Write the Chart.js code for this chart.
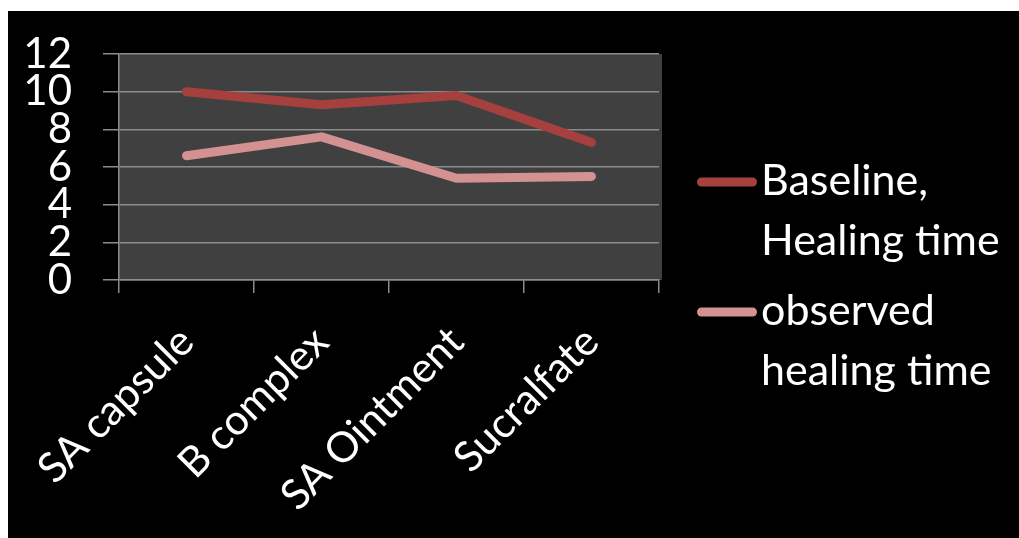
<!DOCTYPE html>
<html>
<head>
<meta charset="utf-8">
<script src="https://cdn.jsdelivr.net/npm/chart.js@4.4.1/dist/chart.umd.min.js"></script>
<style>
  html, body { margin: 0; padding: 0; background: #ffffff; }
  #frame { position: absolute; left: 8px; top: 11px; width: 1011px; height: 527px; background: #000000; }
  canvas { display: block; }
</style>
</head>
<body>
<div id="frame"><canvas id="chart" width="1011" height="527"></canvas></div>
<script>
// Treatments compared
const categories = ['SA capsule', 'B complex', 'SA Ointment', 'Sucralfate'];
// Healing time per treatment
const baselineHealing = [10, 9.3, 9.8, 7.3];
const observedHealing = [6.6, 7.6, 5.4, 5.5];
// Legend text, one entry per series, split over two lines
const baselineName = ['Baseline,', 'Healing time'];
const observedName = ['observed', 'healing time'];
// Value axis
const yMin = 0, yMax = 12, yStep = 2;

const FONT = 'Lato, "Liberation Sans", sans-serif';
const GRID = '#8c8c8c';

// Dark panel behind the plot area
const plotBackground = {
  id: 'plotBackground',
  beforeDraw(chart) {
    const { ctx, chartArea: a } = chart;
    ctx.save();
    ctx.fillStyle = '#404040';
    ctx.fillRect(a.left, a.top, a.right - a.left + 3, a.bottom - a.top);
    ctx.restore();
  }
};

// Legend on the right with wrapped series names
const sideLegend = {
  id: 'sideLegend',
  afterDraw(chart) {
    const { ctx } = chart;
    const items = chart.data.datasets.map(ds => ({ lines: ds.legendLines, color: ds.borderColor }));
    ctx.save();
    ctx.font = '43px ' + FONT;
    ctx.fillStyle = '#ffffff';
    ctx.textBaseline = 'alphabetic';
    ctx.textAlign = 'left';
    const lineGap = 60, itemGap = 130;
    items.forEach((it, i) => {
      const base = 184 + i * itemGap;
      ctx.strokeStyle = it.color;
      ctx.lineWidth = 9;
      ctx.lineCap = 'round';
      ctx.beginPath();
      ctx.moveTo(693.5, base - 13);
      ctx.lineTo(744.5, base - 13);
      ctx.stroke();
      it.lines.forEach((t, j) => ctx.fillText(t, 753, base + j * lineGap));
    });
    ctx.restore();
  }
};

const lineStyle = {
  borderWidth: 9,
  borderCapStyle: 'round',
  borderJoinStyle: 'round',
  pointRadius: 0,
  pointHoverRadius: 0,
  tension: 0,
  fill: false
};

new Chart(document.getElementById('chart'), {
  type: 'line',
  data: {
    labels: categories,
    datasets: [
      Object.assign({ label: baselineName.join(' '), legendLines: baselineName, data: baselineHealing, borderColor: '#a5403e', backgroundColor: '#a5403e' }, lineStyle),
      Object.assign({ label: observedName.join(' '), legendLines: observedName, data: observedHealing, borderColor: '#d39191', backgroundColor: '#d39191' }, lineStyle)
    ]
  },
  options: {
    responsive: false,
    animation: false,
    events: [],
    layout: { padding: { top: 43, right: 360, left: 0, bottom: 0 } },
    plugins: { legend: { display: false }, tooltip: { enabled: false } },
    scales: {
      x: {
        offset: true,
        grid: { offset: true, drawOnChartArea: false, drawTicks: true, tickLength: 13, color: GRID, lineWidth: 1.5 },
        border: { display: true, color: GRID, width: 1.5 },
        ticks: { color: '#ffffff', font: { family: FONT, size: 42 }, minRotation: 45, maxRotation: 45, padding: 24, autoSkip: false },
        afterFit(scale) { scale.height = 258; scale.paddingLeft = 0; scale.paddingRight = 0; }
      },
      y: {
        min: yMin,
        max: yMax,
        grid: { drawOnChartArea: true, drawTicks: true, tickLength: 16, color: GRID, lineWidth: 1.5 },
        border: { display: true, color: GRID, width: 1.5 },
        ticks: { stepSize: yStep, autoSkip: false, color: '#ffffff', font: { family: FONT, size: 42 }, padding: 31 },
        afterFit(scale) { scale.width = 111; scale.paddingTop = 0; scale.paddingBottom = 0; }
      }
    }
  },
  plugins: [plotBackground, sideLegend]
});
</script>
</body>
</html>
